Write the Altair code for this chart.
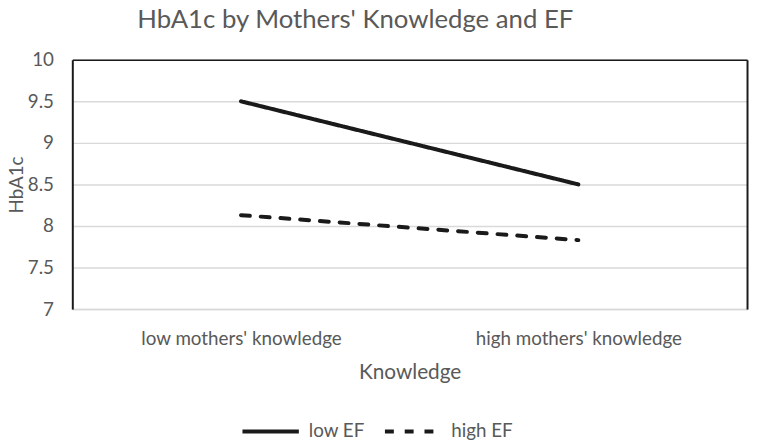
import altair as alt
import pandas as pd

categories = ["low mothers' knowledge", "high mothers' knowledge"]
series = ["low EF", "high EF"]
low_ef = [9.5, 8.5]
high_ef = [8.13, 7.83]
y_ticks = [7, 7.5, 8, 8.5, 9, 9.5, 10]

rows = []
for s, vals in zip(series, [low_ef, high_ef]):
    for c, v in zip(categories, vals):
        rows.append({"Knowledge": c, "HbA1c": v, "series": s})
df = pd.DataFrame(rows)

FONT = "Lato"
TXT = "#595959"
GRID = "#d9d9d9"
DARK = "#1a1a1a"

xscale = alt.Scale(domain=categories, type="point", padding=0.5)
yscale = alt.Scale(domain=[7, 10], nice=False, zero=False)

leg = alt.Legend(
    title=None, orient="none", legendX=170, legendY=345, direction="horizontal",
    symbolType="stroke", symbolSize=3249, symbolStrokeWidth=4,
    labelFontSize=19, labelColor=TXT, labelFont=FONT, labelOffset=8,
    columnPadding=12,
)

base = alt.Chart(df)

lines = base.mark_line(strokeWidth=4, strokeCap="round").encode(
    x=alt.X("Knowledge:N", scale=xscale, sort=categories,
            axis=alt.Axis(title="Knowledge", labelAngle=0, domainColor=GRID, domainWidth=1.5,
                          ticks=False, grid=False, labelFontSize=19, labelColor=TXT, labelFont=FONT,
                          labelLimit=400,
                          titleFontSize=21, titleColor=TXT, titleFontWeight="normal", titleFont=FONT,
                          labelPadding=21, titlePadding=13)),
    y=alt.Y("HbA1c:Q", scale=yscale,
            axis=alt.Axis(values=y_ticks, format="~g", title="HbA1c", domainColor=DARK, domainWidth=2,
                          ticks=False, gridColor=GRID, gridWidth=1.5, labelFontSize=19, labelColor=TXT,
                          labelFont=FONT, titleFont=FONT,
                          titleFontSize=19, titleColor=TXT, titleFontWeight="normal",
                          labelPadding=19, titlePadding=1)),
    color=alt.Color("series:N", sort=series, scale=alt.Scale(domain=series, range=[DARK, DARK]), legend=leg),
    strokeDash=alt.StrokeDash("series:N", sort=series, scale=alt.Scale(domain=series, range=[[1, 0], [9, 11]]), legend=leg),
)

frame = base.mark_line(opacity=0).encode(
    x=alt.X("Knowledge:N", scale=xscale, sort=categories,
            axis=alt.Axis(orient="top", title=None, labels=False, ticks=False, grid=False,
                          domainColor=DARK, domainWidth=1.5)),
    y=alt.Y("HbA1c:Q", scale=yscale,
            axis=alt.Axis(orient="right", title=None, labels=False, ticks=False, grid=False,
                          domainColor=DARK, domainWidth=2)),
    detail="series:N",
)

chart = alt.layer(lines, frame).resolve_axis(x="independent", y="independent").properties(
    width=682, height=252,
    autosize=alt.AutoSizeParams(type="none"),
    padding={"left": 65, "top": 50, "right": 2, "bottom": 130},
    title=alt.TitleParams("HbA1c by Mothers' Knowledge and EF", fontSize=26, color=TXT, font=FONT,
                          fontWeight="normal", anchor="middle", dx=-55, offset=18),
).configure_view(stroke=None).configure(background="white")

chart.save("out.html", embed_options={"renderer": "svg", "actions": False})
